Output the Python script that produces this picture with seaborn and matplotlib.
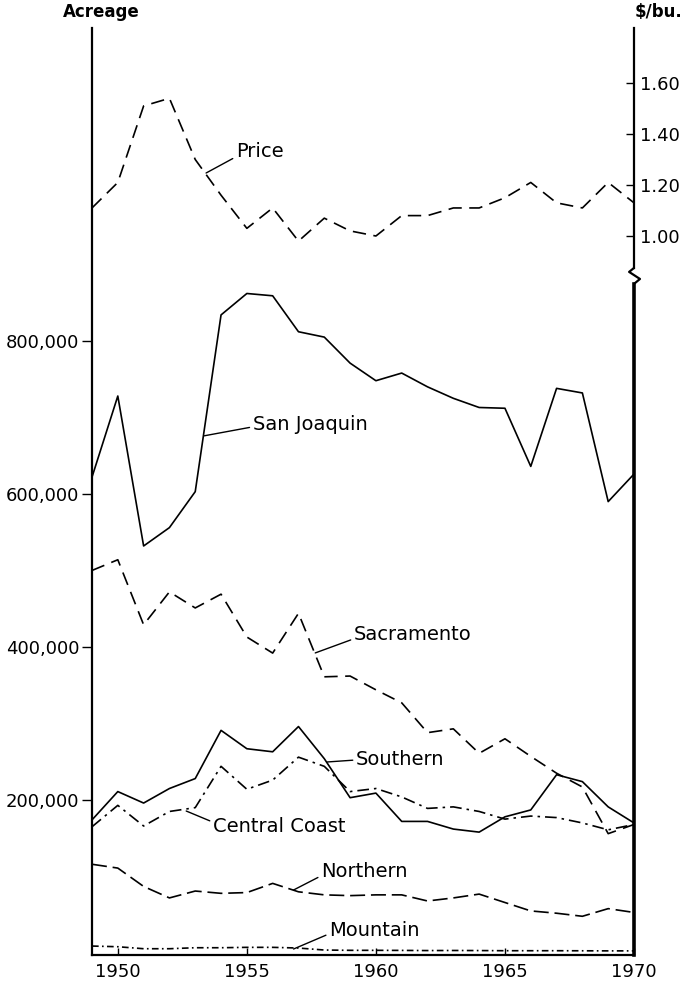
import pandas as pd
import matplotlib.pyplot as plt
import matplotlib.transforms as mtransforms
import seaborn as sns

sns.set_style("white")
plt.rcParams['font.family'] = ['DejaVu Sans']
plt.rcParams['text.color'] = 'black'

years = list(range(1949, 1971))

# $/bu.
price = [1.11, 1.21, 1.51, 1.54, 1.30, 1.16, 1.03, 1.11, 0.98, 1.07, 1.02,
         1.00, 1.08, 1.08, 1.11, 1.11, 1.15, 1.21, 1.13, 1.11, 1.21, 1.13]

# acreage by region
san_joaquin = [622000, 728000, 532000, 556000, 603000, 834000, 862000, 859000,
               812000, 805000, 771000, 748000, 758000, 740000, 725000, 713000,
               712000, 636000, 738000, 732000, 590000, 626000]
sacramento = [500000, 514000, 429000, 472000, 451000, 469000, 413000, 392000,
              444000, 361000, 362000, 344000, 327000, 288000, 293000, 261000,
              280000, 257000, 235000, 217000, 156000, 168000]
southern = [174000, 211000, 196000, 215000, 228000, 291000, 267000, 263000,
            296000, 254000, 203000, 209000, 172000, 172000, 162000, 158000,
            178000, 187000, 233000, 224000, 191000, 170000]
central_coast = [165000, 193000, 166000, 185000, 190000, 244000, 214000, 226000,
                 256000, 244000, 211000, 215000, 204000, 189000, 191000, 185000,
                 175000, 179000, 177000, 170000, 161000, 168000]
northern = [116000, 111000, 87000, 72000, 81000, 78000, 79000, 91000,
            80000, 76000, 75000, 76000, 76000, 68000, 72000, 77000,
            66000, 55000, 52000, 48000, 58000, 53000]
mountain = [9100, 8200, 5600, 5600, 6900, 6900, 7400, 7400, 6500, 3900, 3500,
            3500, 3400, 3200, 3300, 3200, 3000, 3000, 3000, 2900, 2800, 2800]

regions = ["San Joaquin", "Sacramento", "Southern", "Central Coast", "Northern", "Mountain"]
series = [san_joaquin, sacramento, southern, central_coast, northern, mountain]

acreage_ticks = [200000, 400000, 600000, 800000]
acreage_labels = ["200,000", "400,000", "600,000", "800,000"]
price_ticks = [1.00, 1.20, 1.40, 1.60]
price_labels = ["1.00", "1.20", "1.40", "1.60"]
year_ticks = [1950, 1955, 1960, 1965, 1970]

df = pd.DataFrame({
    "year": years * len(regions),
    "acreage": [v for s in series for v in s],
    "region": [r for r in regions for _ in years],
})
price_df = pd.DataFrame({"year": years, "price": price})

dashes = {
    "San Joaquin": "",
    "Sacramento": (8, 4.5),
    "Southern": "",
    "Central Coast": (7, 3, 1.5, 3),
    "Northern": (9, 3.5),
    "Mountain": (4, 2, 1, 2),
}

fig = plt.figure(figsize=(6.88, 9.81), dpi=100)
ax = fig.add_axes([92 / 688, 26 / 981, 542 / 688, 927 / 981])

sns.lineplot(data=df, x="year", y="acreage", style="region", dashes=dashes,
             color="black", lw=1.2, legend=False, estimator=None, ax=ax)

ax.set_xlim(1949, 1969.85)
ax.set_ylim(-2600, 1209000)
ax.set_xticks(year_ticks)
ax.set_yticks(acreage_ticks)
ax.set_yticklabels(acreage_labels)
ax.set_xlabel("")
ax.set_ylabel("")
ax.tick_params(axis="y", direction="out", length=7, width=1, labelsize=13, pad=2, colors="black")
ax.tick_params(axis="x", direction="in", length=5, width=1, labelsize=13, pad=6, colors="black")
ax.xaxis.set_ticks_position("bottom")
ax.yaxis.set_ticks_position("left")

ax.spines["top"].set_visible(False)
for s in ["left", "bottom", "right"]:
    ax.spines[s].set_color("black")
ax.spines["left"].set_linewidth(1.6)
ax.spines["bottom"].set_linewidth(1.6)
ax.spines["right"].set_linewidth(2.6)
ax.spines["right"].set_bounds(-2600, 874500)

# price on the right axis
ax2 = ax.twinx()
sns.lineplot(data=price_df, x="year", y="price", color="black", lw=1.2,
             dashes=False, ax=ax2)
ax2.lines[0].set_dashes((8, 4.5))
ax2.set_ylim(-1.8196, 1.8157)
ax2.set_yticks(price_ticks)
ax2.set_yticklabels(price_labels)
ax2.set_ylabel("")
ax2.tick_params(axis="y", direction="in", length=6, width=1, labelsize=13, pad=4, colors="black")
for s in ["top", "left", "bottom"]:
    ax2.spines[s].set_visible(False)
ax2.spines["right"].set_color("black")
ax2.spines["right"].set_linewidth(1.6)
ax2.spines["right"].set_bounds(0.8745, 1.8157)

# axis break mark
brk = mtransforms.blended_transform_factory(ax.transAxes, ax.transData)
ax.plot([1.0, 0.991, 1.011, 1.0], [895400, 890200, 881000, 874500],
        color="black", lw=1.6, transform=brk, clip_on=False)

arrow = dict(arrowstyle="-", color="black", lw=1, shrinkA=0, shrinkB=0)

ax2.annotate("Price", xy=(1953.42, 1.247), xytext=(1954.58, 1.333),
             fontsize=14, ha="left", va="center", color="black",
             arrowprops=dict(arrow, relpos=(0, 0.2)))
labels = [
    ("San Joaquin", (1953.35, 676000), (1955.23, 690200), (0, 0.4)),
    ("Sacramento", (1957.65, 392200), (1959.15, 415700), (0, 0.3)),
    ("Southern", (1958.12, 249700), (1959.23, 252300), (0, 0.5)),
    ("Central Coast", (1952.65, 185600), (1953.69, 166000), (0, 0.7)),
    ("Northern", (1956.81, 82350), (1957.88, 105900), (0, 0.3)),
    ("Mountain", (1956.81, 5230), (1958.19, 30065), (0, 0.3)),
]
for name, xy, xyt, rp in labels:
    ax.annotate(name, xy=xy, xytext=xyt, fontsize=14, ha="left", va="center",
                color="black", arrowprops=dict(arrow, relpos=rp))

fig.text(63 / 688, 1 - 12 / 981, "Acreage", fontsize=12, fontweight="bold",
         ha="left", va="center", color="black")
fig.text(658 / 688, 1 - 12 / 981, "$/bu.", fontsize=12, fontweight="bold",
         ha="center", va="center", color="black")

fig.savefig("out.png", dpi=100)
